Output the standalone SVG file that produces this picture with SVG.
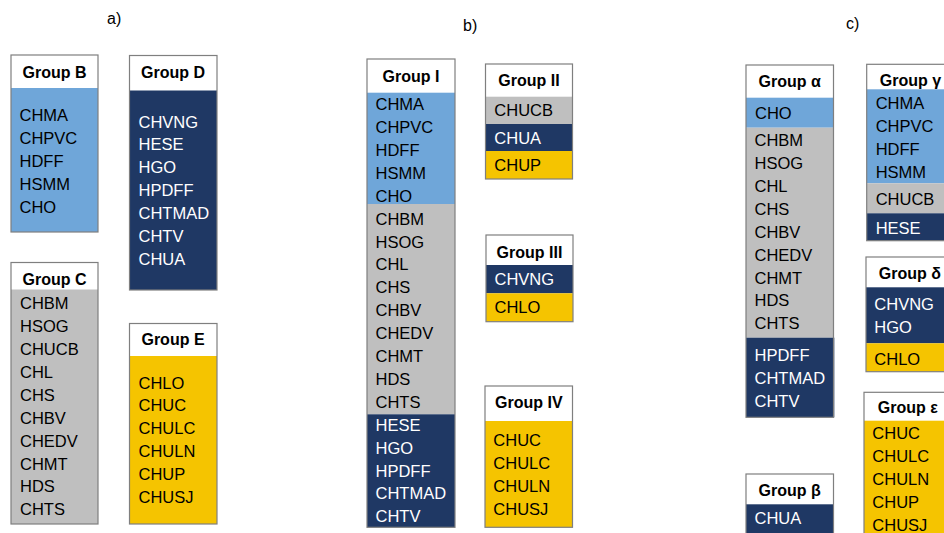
<svg xmlns="http://www.w3.org/2000/svg" width="944" height="533" viewBox="0 0 944 533">
  <style>
    text { font-family: "Liberation Sans", Arial, sans-serif; font-size: 16.5px; }
    .lbl { fill: #000; font-size: 16px; }
    .ttl { font-weight: bold; fill: #000; text-anchor: middle; font-size: 16px; }
    .dk { fill: #000; }
    .lt { fill: #fff; }
    .hdr { fill: #fff; }
    .blue { fill: #6FA6D9; }
    .navy { fill: #1F3864; }
    .gray { fill: #BFBFBF; }
    .yel { fill: #F5C400; }
    .frame { fill: none; stroke: #7F7F7F; stroke-width: 1.2; }
  </style>

  <!-- panel labels -->
  <g id="labels">
    <text class="lbl" x="107" y="24">a)</text>
    <text class="lbl" x="463" y="31">b)</text>
    <text class="lbl" x="846" y="29">c)</text>
  </g>

  <!-- ===== a) ===== -->
  <g id="groupB">
    <rect class="hdr" x="11" y="55" width="87" height="33"/>
    <rect class="blue" x="11" y="88" width="87" height="144"/>
    <rect class="frame" x="11" y="55" width="87" height="177"/>
    <text class="ttl" x="54.5" y="77.5">Group B</text>
    <g class="dk">
      <text x="19.5" y="121">CHMA</text>
      <text x="19.5" y="144">CHPVC</text>
      <text x="19.5" y="167">HDFF</text>
      <text x="19.5" y="190">HSMM</text>
      <text x="19.5" y="213">CHO</text>
    </g>
  </g>

  <g id="groupD">
    <rect class="hdr" x="129.5" y="55.5" width="87.5" height="35"/>
    <rect class="navy" x="129.5" y="90.5" width="87.5" height="199.5"/>
    <rect class="frame" x="129.5" y="55.5" width="87.5" height="234.5"/>
    <text class="ttl" x="173" y="77.5">Group D</text>
    <g class="lt">
      <text x="138.5" y="127.5">CHVNG</text>
      <text x="138.5" y="150.4">HESE</text>
      <text x="138.5" y="173.3">HGO</text>
      <text x="138.5" y="196.2">HPDFF</text>
      <text x="138.5" y="219.1">CHTMAD</text>
      <text x="138.5" y="242">CHTV</text>
      <text x="138.5" y="264.9">CHUA</text>
    </g>
  </g>

  <g id="groupC">
    <rect class="hdr" x="11" y="262.5" width="87" height="27"/>
    <rect class="gray" x="11" y="289.5" width="87" height="234.5"/>
    <rect class="frame" x="11" y="262.5" width="87" height="261.5"/>
    <text class="ttl" x="54.5" y="285">Group C</text>
    <g class="dk">
      <text x="20" y="309.2">CHBM</text>
      <text x="20" y="332.1">HSOG</text>
      <text x="20" y="355">CHUCB</text>
      <text x="20" y="377.9">CHL</text>
      <text x="20" y="400.8">CHS</text>
      <text x="20" y="423.7">CHBV</text>
      <text x="20" y="446.6">CHEDV</text>
      <text x="20" y="469.5">CHMT</text>
      <text x="20" y="492.4">HDS</text>
      <text x="20" y="515.3">CHTS</text>
    </g>
  </g>

  <g id="groupE">
    <rect class="hdr" x="129.5" y="323.5" width="87.5" height="32.5"/>
    <rect class="yel" x="129.5" y="356" width="87.5" height="168"/>
    <rect class="frame" x="129.5" y="323.5" width="87.5" height="200.5"/>
    <text class="ttl" x="173" y="345">Group E</text>
    <g class="dk">
      <text x="138.5" y="388.5">CHLO</text>
      <text x="138.5" y="411.4">CHUC</text>
      <text x="138.5" y="434.3">CHULC</text>
      <text x="138.5" y="457.2">CHULN</text>
      <text x="138.5" y="480.1">CHUP</text>
      <text x="138.5" y="503">CHUSJ</text>
    </g>
  </g>

  <!-- ===== b) ===== -->
  <g id="groupI">
    <rect class="hdr" x="367" y="59" width="88" height="33.7"/>
    <rect class="blue" x="367" y="92.7" width="88" height="111.3"/>
    <rect class="gray" x="367" y="204" width="88" height="210.3"/>
    <rect class="navy" x="367" y="414.3" width="88" height="113"/>
    <rect class="frame" x="367" y="59" width="88" height="468.3"/>
    <text class="ttl" x="411" y="81.8">Group I</text>
    <g class="dk">
      <text x="375.5" y="110.1">CHMA</text>
      <text x="375.5" y="133">CHPVC</text>
      <text x="375.5" y="155.9">HDFF</text>
      <text x="375.5" y="178.8">HSMM</text>
      <text x="375.5" y="201.7">CHO</text>
      <text x="375.5" y="224.6">CHBM</text>
      <text x="375.5" y="247.5">HSOG</text>
      <text x="375.5" y="270.4">CHL</text>
      <text x="375.5" y="293.3">CHS</text>
      <text x="375.5" y="316.2">CHBV</text>
      <text x="375.5" y="339.1">CHEDV</text>
      <text x="375.5" y="362">CHMT</text>
      <text x="375.5" y="384.9">HDS</text>
      <text x="375.5" y="407.8">CHTS</text>
    </g>
    <g class="lt">
      <text x="375.5" y="430.7">HESE</text>
      <text x="375.5" y="453.6">HGO</text>
      <text x="375.5" y="476.5">HPDFF</text>
      <text x="375.5" y="499.4">CHTMAD</text>
      <text x="375.5" y="522.3">CHTV</text>
    </g>
  </g>

  <g id="groupII">
    <rect class="hdr" x="485.5" y="64" width="87" height="32.7"/>
    <rect class="gray" x="485.5" y="96.7" width="87" height="27.3"/>
    <rect class="navy" x="485.5" y="124" width="87" height="27"/>
    <rect class="yel" x="485.5" y="151" width="87" height="28"/>
    <rect class="frame" x="485.5" y="64" width="87" height="115"/>
    <text class="ttl" x="529" y="85.8">Group II</text>
    <text class="dk" x="494.3" y="115.8">CHUCB</text>
    <text class="lt" x="494.3" y="143.5">CHUA</text>
    <text class="dk" x="494.3" y="170.8">CHUP</text>
  </g>

  <g id="groupIII">
    <rect class="hdr" x="486" y="235" width="87" height="30"/>
    <rect class="navy" x="486" y="265" width="87" height="28.3"/>
    <rect class="yel" x="486" y="293.3" width="87" height="28.4"/>
    <rect class="frame" x="486" y="235" width="87" height="86.7"/>
    <text class="ttl" x="529.5" y="257.5">Group III</text>
    <text class="lt" x="494.5" y="285.1">CHVNG</text>
    <text class="dk" x="494.5" y="312.5">CHLO</text>
  </g>

  <g id="groupIV">
    <rect class="hdr" x="485" y="386" width="87.5" height="35"/>
    <rect class="yel" x="485" y="421" width="87.5" height="106.3"/>
    <rect class="frame" x="485" y="386" width="87.5" height="141.3"/>
    <text class="ttl" x="528.8" y="408.1">Group IV</text>
    <g class="dk">
      <text x="493.3" y="445.8">CHUC</text>
      <text x="493.3" y="468.7">CHULC</text>
      <text x="493.3" y="491.6">CHULN</text>
      <text x="493.3" y="514.5">CHUSJ</text>
    </g>
  </g>

  <!-- ===== c) ===== -->
  <g id="groupAlpha">
    <rect class="hdr" x="746" y="65" width="87.5" height="32.7"/>
    <rect class="blue" x="746" y="97.7" width="87.5" height="30"/>
    <rect class="gray" x="746" y="127.7" width="87.5" height="210"/>
    <rect class="navy" x="746" y="337.7" width="88.3" height="79.6"/>
    <rect class="frame" x="746" y="65" width="87.5" height="352.3"/>
    <text class="ttl" x="789.7" y="86.8">Group α</text>
    <g class="dk">
      <text x="755" y="118.5">CHO</text>
      <text x="754.5" y="146.1">CHBM</text>
      <text x="754.5" y="169">HSOG</text>
      <text x="754.5" y="191.9">CHL</text>
      <text x="754.5" y="214.8">CHS</text>
      <text x="754.5" y="237.7">CHBV</text>
      <text x="754.5" y="260.6">CHEDV</text>
      <text x="754.5" y="283.5">CHMT</text>
      <text x="754.5" y="306.4">HDS</text>
      <text x="754.5" y="329.3">CHTS</text>
    </g>
    <g class="lt">
      <text x="754.5" y="360.8">HPDFF</text>
      <text x="754.5" y="383.8">CHTMAD</text>
      <text x="754.5" y="406.6">CHTV</text>
    </g>
  </g>

  <g id="groupBeta">
    <rect class="hdr" x="746" y="474" width="87.5" height="30.3"/>
    <rect class="navy" x="746" y="504.3" width="87.5" height="30"/>
    <rect class="frame" x="746" y="474" width="87.5" height="60"/>
    <text class="ttl" x="789.7" y="495.8">Group β</text>
    <text class="lt" x="754.5" y="524.1">CHUA</text>
  </g>

  <g id="groupGamma">
    <rect class="hdr" x="866.7" y="64.3" width="87.5" height="25"/>
    <rect class="blue" x="866.7" y="89.3" width="87.5" height="94"/>
    <rect class="gray" x="866.7" y="183.3" width="87.5" height="30"/>
    <rect class="navy" x="866.7" y="213.3" width="87.5" height="27.4"/>
    <rect class="frame" x="866.7" y="64.3" width="87.5" height="176.4"/>
    <text class="ttl" x="910.5" y="86">Group γ</text>
    <g class="dk">
      <text x="875.7" y="109.1">CHMA</text>
      <text x="875.7" y="132.3">CHPVC</text>
      <text x="875.7" y="155.2">HDFF</text>
      <text x="875.7" y="178.1">HSMM</text>
      <text x="875.7" y="204.8">CHUCB</text>
    </g>
    <text class="lt" x="875.7" y="234.1">HESE</text>
  </g>

  <g id="groupDelta">
    <rect class="hdr" x="866" y="257" width="87.5" height="30.3"/>
    <rect class="navy" x="866" y="287.3" width="87.5" height="56"/>
    <rect class="yel" x="866" y="343.3" width="87.5" height="28.4"/>
    <rect class="frame" x="866" y="257" width="87.5" height="114.7"/>
    <text class="ttl" x="909.8" y="279">Group δ</text>
    <text class="lt" x="874.3" y="309.8">CHVNG</text>
    <text class="lt" x="874.3" y="333.1">HGO</text>
    <text class="dk" x="874.3" y="364.8">CHLO</text>
  </g>

  <g id="groupEpsilon">
    <rect class="hdr" x="864" y="392.3" width="87.5" height="28.4"/>
    <rect class="yel" x="864" y="420.7" width="87.5" height="113"/>
    <rect class="frame" x="864" y="392.3" width="87.5" height="142"/>
    <text class="ttl" x="907.8" y="412.5">Group ε</text>
    <g class="dk">
      <text x="872.3" y="439.1">CHUC</text>
      <text x="872.3" y="462">CHULC</text>
      <text x="872.3" y="484.9">CHULN</text>
      <text x="872.3" y="507.8">CHUP</text>
      <text x="872.3" y="530.7">CHUSJ</text>
    </g>
  </g>
</svg>
